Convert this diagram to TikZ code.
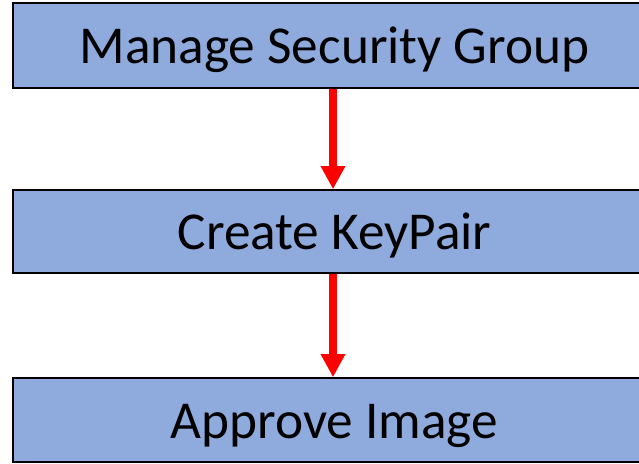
\documentclass[tikz,border=0pt]{standalone}
\usepackage{fontspec}
\setmainfont{Carlito}
\usetikzlibrary{arrows.meta}
\definecolor{boxblue}{RGB}{143,170,220}
\tikzset{
  stepbox/.style={draw=black, line width=1.5pt, fill=boxblue, minimum width=643pt, minimum height=84pt, inner sep=0pt, text height=36pt, text depth=0pt, font=\fontsize{53.3}{60}\selectfont, text=black},
  redarrow/.style={draw=red, line width=8pt, -{Triangle[length=23pt,width=23pt]}, shorten >=0pt}
}
\begin{document}
\begin{tikzpicture}[x=1pt,y=1pt]
\useasboundingbox (0,0) rectangle (639,463);
\clip (0,0) rectangle (639,463);
\node[stepbox, minimum height=85pt] (b1) at (334.5,{463-45.5}) {Manage Security Group};
\node[stepbox, minimum height=83pt] (b2) at (334.5,{463-231.5}) {Create KeyPair};
\node[stepbox, minimum height=84pt] (b3) at (334.5,{463-420}) {Approve Image};
\draw[redarrow] ([xshift=-1.5pt]b1.south) -- ([xshift=-1.5pt]b2.north);
\draw[redarrow] ([xshift=-1.5pt]b2.south) -- ([xshift=-1.5pt]b3.north);
\end{tikzpicture}
\end{document}
